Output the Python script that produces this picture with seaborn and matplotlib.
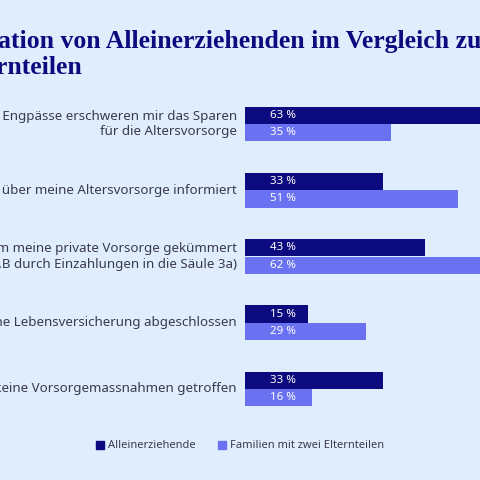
import matplotlib
matplotlib.use("Agg")
import matplotlib.pyplot as plt
import seaborn as sns
import pandas as pd
from matplotlib.patches import Patch

categories = [
    "Finanzielle Engpässe erschweren mir das Sparen\nfür die Altersvorsorge",
    "Ich bin gut über meine Altersvorsorge informiert",
    "Ich habe mich um meine private Vorsorge gekümmert\n(z.B durch Einzahlungen in die Säule 3a)",
    "Ich habe eine Lebensversicherung abgeschlossen",
    "Ich habe gar keine Vorsorgemassnahmen getroffen",
]
series = ["Alleinerziehende", "Familien mit zwei Elternteilen"]
allein = [63, 33, 43, 15, 33]
familien = [35, 51, 62, 29, 16]
colors = ["#0b0a7e", "#6a72f2"]
bg = "#dfedfd"

df = pd.DataFrame({
    "cat": categories * 2,
    "group": [series[0]] * 5 + [series[1]] * 5,
    "val": allein + familien,
})

sns.set_theme(style="white")
fig = plt.figure(figsize=(4.8, 4.8), dpi=100, facecolor=bg)
ax = fig.add_axes([245/480, 1-422/480, 1-245/480, (422-91)/480])
ax.set_facecolor(bg)
sns.barplot(data=df, y="cat", x="val", hue="group", palette=colors,
            width=0.52, orient="h", ax=ax, legend=False, saturation=1,
            linewidth=0)
ax.set_xlim(0, 235/4.18)
ax.set_ylim(4.5, -0.5)
for s in ax.spines.values():
    s.set_visible(False)
ax.set_xticks([])
ax.set_yticks([])
ax.set_xlabel("")
ax.set_ylabel("")

for cont in ax.containers:
    for bar in cont:
        w = bar.get_width()
        ax.text(9, bar.get_y() + bar.get_height()/2, f"{int(round(w))} %",
                ha="center", va="center", color="white", fontsize=8.3,
                fontweight="bold", family="Noto Sans")

for i, c in enumerate(categories):
    ax.text(-8/4.18, i, c, ha="right", va="center",
            fontsize=9.6, color="#3a3a4e", family="Noto Sans",
            linespacing=1.25, clip_on=False)

fig.text(481/480, 1-48/480, "Vorsorgesituation von Alleinerziehenden im Vergleich zu",
         ha="right", va="baseline", fontsize=18.5, fontweight="bold",
         color="#0b0a7e", family="Liberation Serif")
fig.text(82/480, 1-74/480, "Familien mit zwei Elternteilen",
         ha="right", va="baseline", fontsize=18.5, fontweight="bold",
         color="#0b0a7e", family="Liberation Serif")

handles = [Patch(color=c, label=l) for c, l in zip(colors, series)]
fig.legend(handles=handles, loc="center", bbox_to_anchor=(0.5, 1-446/480),
           ncol=2, frameon=False, handlelength=0.7,
           handleheight=0.7, handletextpad=0.4, columnspacing=2.0,
           labelcolor="#3a3a4e", prop={"family": "Noto Sans", "size": 8})

fig.savefig("out.png", dpi=100, facecolor=bg)
